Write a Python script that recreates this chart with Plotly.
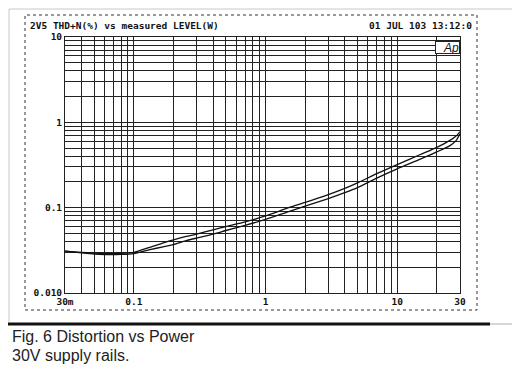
import math
import plotly.graph_objects as go

# ---- data ----
power_w = [0.03, 0.04, 0.05, 0.06, 0.08, 0.1, 0.13, 0.17, 0.2, 0.25, 0.3, 0.4, 0.5, 0.7,
           1, 1.5, 2, 3, 4, 5, 7, 10, 15, 20, 25, 28, 30]
thd_ch_a = [0.031, 0.0300, 0.0293, 0.0290, 0.0292, 0.0300, 0.034, 0.039, 0.042, 0.046, 0.049,
            0.055, 0.060, 0.068, 0.080, 0.100, 0.115, 0.142, 0.168, 0.195, 0.250, 0.32, 0.42,
            0.51, 0.61, 0.69, 0.78]
thd_ch_b = [0.031, 0.0295, 0.0285, 0.0282, 0.0283, 0.0290, 0.032, 0.035, 0.037, 0.041, 0.044,
            0.049, 0.054, 0.062, 0.073, 0.090, 0.104, 0.128, 0.150, 0.172, 0.222, 0.285, 0.37,
            0.45, 0.53, 0.61, 0.74]

x_tick_labels = {0.03: "30m", 0.1: "0.1", 1: "1", 10: "10", 30: "30"}
y_tick_labels = {0.01: "0.010", 0.1: "0.1", 1: "1", 10: "10"}

title_left = "2V5 THD+N(%) vs measured LEVEL(W)"
title_right = "01 JUL 103 13:12:0"
caption_1 = "Fig. 6 Distortion vs Power"
caption_2 = "30V supply rails."


def log_grid(lo, hi):
    vals = []
    for e in range(-3, 3):
        for m in range(1, 10):
            v = round(m * 10 ** e, 6)
            if lo - 1e-9 <= v <= hi + 1e-9:
                vals.append(v)
    return vals


xvals = log_grid(0.03, 30)
yvals = log_grid(0.01, 10)
xtext = [x_tick_labels.get(v, "") for v in xvals]
ytext = [y_tick_labels.get(v, "") for v in yvals]

mono = dict(family="DejaVu Sans Mono", size=9.5, color="#111", weight="bold")
ink = "#222"

fig = go.Figure()
for ys in (thd_ch_a, thd_ch_b):
    fig.add_trace(go.Scatter(x=power_w, y=ys, mode="lines",
                             line=dict(color="#111", width=1.3, shape="spline", smoothing=0.6),
                             showlegend=False, hoverinfo="skip"))

# the page is shown with an 8px body margin, so target screen positions are shifted by OFF
OFF = 8
W, H = 520, 365
L, T = 65 - OFF, 37 - OFF
pw, ph = 395, 256
R, B = W - L - pw, H - T - ph


def px(xs):  # screen x -> paper x
    return (xs - OFF - L) / pw


def py(ys):  # screen y -> paper y
    return (T + ph - (ys - OFF)) / ph


fig.update_layout(
    width=W, height=H,
    margin=dict(l=L, r=R, t=T, b=B),
    paper_bgcolor="white", plot_bgcolor="white",
    xaxis=dict(type="log", range=[math.log10(0.03), math.log10(30)],
               tickmode="array", tickvals=xvals, ticktext=xtext, ticks="",
               showgrid=True, gridcolor=ink, gridwidth=1, zeroline=False,
               showline=True, mirror=True, linecolor=ink, linewidth=1,
               tickfont=mono, fixedrange=True),
    yaxis=dict(type="log", range=[-2, 1],
               tickmode="array", tickvals=yvals, ticktext=ytext, ticks="",
               showgrid=True, gridcolor=ink, gridwidth=1, zeroline=False,
               showline=True, mirror=True, linecolor=ink, linewidth=1,
               tickfont=mono, fixedrange=True),
    shapes=[
        # dotted instrument frame
        dict(type="rect", xref="paper", yref="paper", x0=px(25), x1=px(477), y0=py(310), y1=py(15),
             line=dict(color="#333", width=1, dash="dot"), layer="below"),
        # light page border
        dict(type="line", xref="paper", yref="paper", x0=px(9), x1=px(513), y0=py(9), y1=py(9),
             line=dict(color="#c8c8c8", width=1)),
        dict(type="line", xref="paper", yref="paper", x0=px(9), x1=px(9), y0=py(9), y1=py(322),
             line=dict(color="#c8c8c8", width=1)),
        dict(type="line", xref="paper", yref="paper", x0=px(513), x1=px(513), y0=py(9), y1=py(324),
             line=dict(color="#c8c8c8", width=1)),
        dict(type="line", xref="paper", yref="paper", x0=px(490), x1=px(520), y0=py(324), y1=py(324),
             line=dict(color="#c8c8c8", width=1.5)),
        # dark rule under the chart
        dict(type="line", xref="paper", yref="paper", x0=px(0), x1=px(490), y0=py(324), y1=py(324),
             line=dict(color="#111", width=3)),
    ],
    annotations=[
        dict(text=title_left, xref="paper", yref="paper", x=px(28), y=py(25),
             xanchor="left", yanchor="middle", showarrow=False, font=mono),
        dict(text=title_right, xref="paper", yref="paper", x=px(474), y=py(25),
             xanchor="right", yanchor="middle", showarrow=False, font=mono),
        dict(text="<i>Ap</i>", xref="paper", yref="paper", x=1, y=py(41),
             xanchor="right", yanchor="top", showarrow=False, width=23, height=11,
             align="right", valign="middle",
             font=dict(family="Liberation Sans", size=12, color="#111"),
             bgcolor="white", bordercolor="#222", borderwidth=1, borderpad=0),
        dict(text=caption_1, xref="paper", yref="paper", x=px(10), y=py(336),
             xanchor="left", yanchor="middle", showarrow=False,
             font=dict(family="Liberation Sans", size=16, color="#222")),
        dict(text=caption_2, xref="paper", yref="paper", x=px(10), y=py(355),
             xanchor="left", yanchor="middle", showarrow=False,
             font=dict(family="Liberation Sans", size=16, color="#222")),
    ],
)

fig.write_html("out.html")
